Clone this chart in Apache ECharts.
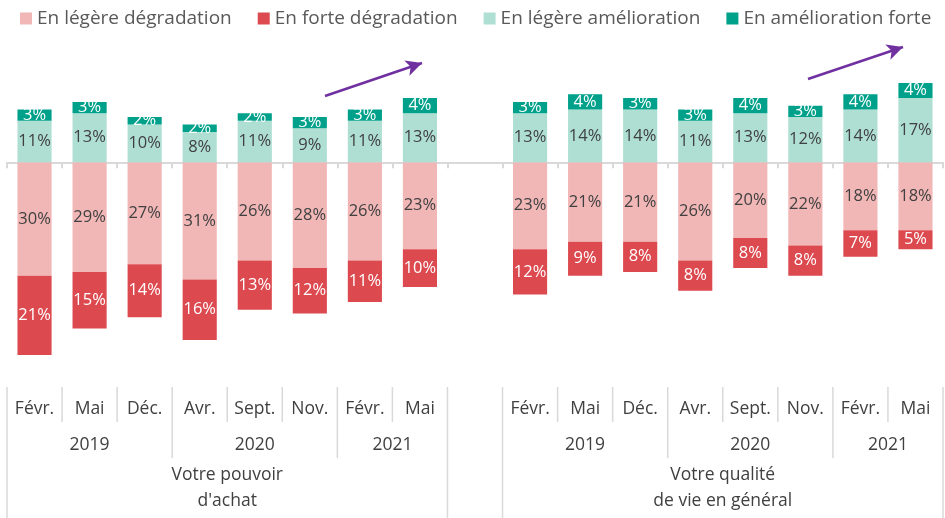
<!DOCTYPE html>
<html>
<head>
<meta charset="utf-8">
<script src="https://cdn.jsdelivr.net/npm/echarts@6/dist/echarts.min.js"></script>
<style>
  html, body { margin: 0; padding: 0; background: #fff; }
  #chart { width: 945px; height: 518px; }
</style>
</head>
<body>
<div id="chart"></div>
<script>
// données (en %)
const months = ['Févr.', 'Mai', 'Déc.', 'Avr.', 'Sept.', 'Nov.', 'Févr.', 'Mai', '',
  'Févr.', 'Mai', 'Déc.', 'Avr.', 'Sept.', 'Nov.', 'Févr.', 'Mai']
const legereDegradation = [30, 29, 27, 31, 26, 28, 26, 23, null, 23, 21, 21, 26, 20, 22, 18, 18]
const forteDegradation = [21, 15, 14, 16, 13, 12, 11, 10, null, 12, 9, 8, 8, 8, 8, 7, 5]
const legereAmelioration = [11, 13, 10, 8, 11, 9, 11, 13, null, 13, 14, 14, 11, 13, 12, 14, 17]
const forteAmelioration = [3, 3, 2, 2, 2, 3, 3, 4, null, 3, 4, 3, 3, 4, 3, 4, 4]
// années : [début, fin (index catégories), libellé]
const years = [[0, 3, '2019'], [3, 6, '2020'], [6, 8, '2021'], [9, 12, '2019'], [12, 15, '2020'], [15, 17, '2021']]
const groups = [[0, 8, 'Votre pouvoir\nd\'achat'], [9, 17, 'Votre qualité\nde vie en général']]
const yearBounds = [3, 6, 12, 15]
const fullBounds = [0, 8, 9, 17]

const font = 'Open Sans'
const textColor = '#404040'
const lineColor = '#D9D9D9'

function barSeries (name, data, color, labelColor, sign) {
  return {
    name: name,
    type: 'bar',
    stack: 'total',
    barCategoryGap: '38%',
    data: data.map(v => v == null ? '-' : sign * v),
    itemStyle: { color: color },
    label: {
      show: true,
      position: 'inside',
      color: labelColor,
      fontFamily: font,
      fontSize: 16.5,
      formatter: p => Math.abs(p.value) + '%'
    }
  }
}

// éléments du tableau d'axe en bas : séparateurs + libellés
const tableItems = []
for (let b = 0; b <= 17; b++) {
  let level = 'month'
  if (fullBounds.includes(b)) level = 'full'
  else if (yearBounds.includes(b)) level = 'year'
  tableItems.push({ value: [b, 0], kind: 'sep', level: level })
}
months.forEach((m, i) => { if (m) tableItems.push({ value: [i + 0.5, 22], kind: 'text', text: m }) })
years.forEach(y => tableItems.push({ value: [(y[0] + y[1]) / 2, 58], kind: 'text', text: y[2] }))
groups.forEach(g => tableItems.push({ value: [(g[0] + g[1]) / 2, 101], kind: 'text', text: g[2] }))

const sepEnd = { month: 35, year: 71, full: 131 }

const chart = echarts.init(document.getElementById('chart'))
chart.setOption({
  animation: false,
  legend: {
    top: 9,
    left: 20,
    right: 0,
    padding: 0,
    icon: 'rect',
    itemWidth: 12,
    itemHeight: 12,
    itemGap: 26,
    textStyle: { fontFamily: font, fontSize: 19, color: '#595959' },
    data: ['En légère dégradation', 'En forte dégradation', 'En légère amélioration', 'En amélioration forte']
  },
  grid: [
    { left: 7, right: 2, top: 49, height: 340 },
    { left: 7, right: 2, top: 387, height: 131 }
  ],
  xAxis: [
    {
      type: 'category',
      gridIndex: 0,
      data: months,
      boundaryGap: true,
      axisLine: { onZero: true, lineStyle: { color: lineColor, width: 2 } },
      axisTick: { show: true, length: 6, lineStyle: { color: lineColor, width: 2 } },
      axisLabel: { show: false }
    },
    { type: 'value', gridIndex: 1, min: 0, max: 17, show: false }
  ],
  yAxis: [
    { type: 'value', gridIndex: 0, min: -60, max: 30, show: false },
    { type: 'value', gridIndex: 1, min: 0, max: 131, inverse: true, show: false }
  ],
  series: [
    barSeries('En légère dégradation', legereDegradation, '#F1B6B6', textColor, -1),
    barSeries('En forte dégradation', forteDegradation, '#DC4A4F', '#fff', -1),
    barSeries('En légère amélioration', legereAmelioration, '#AEDFD2', textColor, 1),
    Object.assign(barSeries('En amélioration forte', forteAmelioration, '#00A18B', '#fff', 1), {
      markLine: {
        silent: true,
        symbol: ['none', 'arrow'],
        symbolSize: [12, 16],
        label: { show: false },
        lineStyle: { color: '#7030A0', width: 2.5, type: 'solid' },
        data: [
          [{ x: 325, y: 96 }, { x: 422, y: 63 }],
          [{ x: 808, y: 79 }, { x: 903, y: 47 }]
        ]
      }
    }),
    {
      type: 'custom',
      xAxisIndex: 1,
      yAxisIndex: 1,
      silent: true,
      data: tableItems,
      renderItem: function (params, api) {
        const item = tableItems[params.dataIndex]
        const p = api.coord([api.value(0), api.value(1)])
        if (item.kind === 'sep') {
          const end = api.coord([api.value(0), sepEnd[item.level]])
          return {
            type: 'line',
            shape: { x1: p[0], y1: p[1], x2: end[0], y2: end[1] },
            style: { stroke: lineColor, lineWidth: 1.5 }
          }
        }
        return {
          type: 'text',
          x: p[0],
          y: p[1],
          style: {
            text: item.text,
            fill: textColor,
            font: '17.5px "' + font + '"',
            align: 'center',
            verticalAlign: 'middle',
            lineHeight: 26
          }
        }
      }
    }
  ]
})
</script>
</body>
</html>
